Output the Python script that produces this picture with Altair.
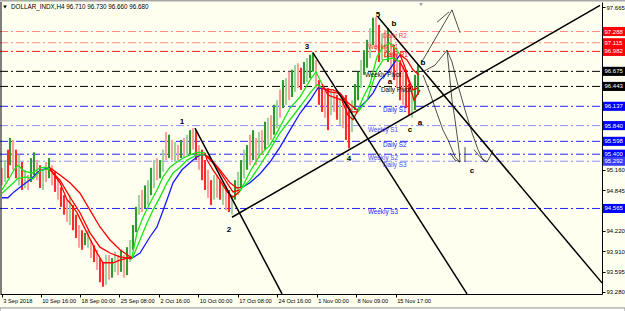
import altair as alt
import pandas as pd

FONT = "Liberation Sans"
BG = "#fffff0"

# ---------------- candles (sampled H4 bars) ----------------
bar_x = [2,5,8,10,13,16,19,22,25,28,31,34,37,40,43,46,49,52,55,58,61,64,67,70,73,76,79,82,85,88,
         91,94,97,100,103,106,109,112,115,118,121,124,127,130,133,136,139,142,145,148,151,154,157,160,
         163,166,169,172,175,178,181,184,187,190,193,196,199,202,205,208,211,214,217,220,223,226,229,
         232,235,238,241,244,247,250,253,256,259,262,265,268,271,274,277,280,283,286,289,292,295,298,
         301,304,307,310,313,316,319,322,325,328,331,334,337,340,343,346,349,352,355,358,361,364,367,
         370,373,376,379,382,385,388,391,394,397,400,403,406,409,412,415,418]
bar_high = [95.19,95.31,95.47,95.65,95.62,95.47,95.39,95.28,95.16,95.08,95.34,95.43,95.31,95.23,95.16,
            95.28,95.34,95.23,95.13,95.00,94.89,94.77,94.70,94.77,94.62,94.47,94.31,94.23,94.19,94.23,
            94.08,94.00,93.93,93.80,93.74,93.85,93.85,93.80,93.90,93.85,93.93,93.85,93.97,94.08,94.31,
            94.59,94.77,94.85,94.92,95.00,95.19,95.31,95.34,95.31,95.47,95.74,95.70,95.62,95.59,95.54,
            95.62,95.65,95.70,95.77,95.80,95.77,95.54,95.47,95.31,95.16,95.00,95.08,95.08,95.00,94.96,
            94.92,94.85,94.77,95.00,95.13,95.31,95.47,95.54,95.70,95.77,95.65,95.74,95.77,95.90,95.96,
            96.00,96.16,96.23,96.39,96.54,96.57,96.67,96.70,96.77,96.80,96.73,96.82,96.88,96.93,96.97,
            96.85,96.54,96.42,96.39,96.42,96.39,96.36,96.31,96.27,96.23,96.31,96.08,96.23,96.48,96.67,
            96.85,97.00,97.16,97.34,97.50,97.51,97.39,97.26,97.31,97.34,97.23,97.08,96.97,96.85,96.77,
            96.70,96.48,96.39,96.62,96.77]
bar_low = [94.92,94.97,95.03,95.23,95.16,95.03,94.92,94.85,94.88,94.85,94.97,95.08,95.00,94.88,94.85,
           94.97,95.03,94.92,94.82,94.70,94.59,94.47,94.36,94.31,94.23,94.11,93.96,93.93,94.00,93.96,
           93.80,93.74,93.62,93.43,93.36,93.39,93.47,93.50,93.59,93.54,93.59,93.50,93.54,93.74,93.93,
           94.20,94.47,94.51,94.57,94.62,94.77,94.88,95.00,95.03,95.13,95.31,95.34,95.31,95.28,95.31,
           95.34,95.36,95.39,95.39,95.47,95.31,95.16,95.00,94.85,94.73,94.62,94.70,94.73,94.70,94.62,
           94.54,94.51,94.47,94.70,94.77,94.88,95.03,95.16,95.23,95.31,95.23,95.34,95.39,95.47,95.54,
           95.62,95.70,95.80,95.96,96.11,96.16,96.23,96.28,96.36,96.42,96.39,96.48,96.51,96.57,96.67,
           96.42,96.16,96.05,95.96,95.77,96.00,96.05,95.93,95.85,95.80,95.62,95.49,95.74,96.08,96.23,
           96.42,96.62,96.73,96.88,97.08,97.00,96.82,96.85,96.88,96.82,96.67,96.54,96.42,96.23,96.16,
           96.11,96.00,95.96,96.08,96.31]
bar_kind = list("rgRGrRgRgrGGrRg" "rGrRrRRrgRRrRGg" "rRrRRgrGgrGrGgG" "GgrGgGgrGgrGrgr"
                "GrgGrRrRRrRgrRg" "rRgGgGgGrGrgrGg" "rGgrGgrGgrRGgGG" "rRRrRgrRgrRRgGG"
                "gGGgGrRgrGrRrRr" "RRgGG")
kind_color = {"G": "#2e9a2e", "g": "#9ed49e", "R": "#ff2a2a", "r": "#ff9f9f"}

# ---------------- moving averages (colour changes with trend) ----------------
GRN, RED, BLU = "#19e619", "#ff0000", "#1a1aff"
slow_segs = [
    (BLU, [2,8,14,20,26,32,38,44,50], [94.73,94.73,94.82,94.89,94.96,95.03,95.13,95.17,95.19]),
    (RED, [50,60,70,80,90,100,110,120,132], [95.19,95.08,94.96,94.80,94.54,94.28,94.08,93.93,93.80]),
    (BLU, [132,140,150,157,167,173,182,193,200,205], [93.80,93.88,94.13,94.28,94.70,94.96,95.16,95.31,95.39,95.39]),
    (RED, [205,210,220,230,237,242], [95.39,95.34,95.16,94.96,94.88,94.89]),
    (BLU, [242,250,260,270,280,290,300,310,318,325], [94.89,94.96,95.10,95.28,95.51,95.77,96.03,96.23,96.42,96.40]),
    (RED, [325,333,340,348,357], [96.40,96.39,96.34,96.19,96.08]),
    (BLU, [357,367,373,380,387,395,400], [96.08,96.23,96.34,96.54,96.65,96.82,96.93]),
    (RED, [400,407,413,419], [96.93,96.85,96.70,96.62]),
]
mid_segs = [
    (GRN, [2,10,18,26,33,40,46,50], [94.80,94.91,95.03,95.05,95.02,95.14,95.17,95.16]),
    (RED, [50,60,70,80,90,100,110,120,132], [95.16,95.00,94.74,94.50,94.19,93.97,93.88,93.82,93.79]),
    (GRN, [132,140,147,153,160,167,173,180,187,197,205], [93.79,94.08,94.34,94.54,94.74,94.96,95.11,95.20,95.31,95.39,95.39]),
    (RED, [205,207,217,227,233,240], [95.39,95.36,95.20,94.96,94.82,94.85]),
    (GRN, [240,250,260,270,280,290,300,310,317,322], [94.85,95.00,95.23,95.47,95.73,95.93,96.13,96.34,96.47,96.42]),
    (RED, [322,330,338,345,352,358], [96.42,96.36,96.34,96.23,96.05,96.05]),
    (GRN, [358,367,377,383,393,400], [96.05,96.23,96.70,96.85,96.88,96.82]),
    (RED, [400,407,413,418], [96.82,96.62,96.39,96.42]),
]
fast_segs = [
    (GRN, [2,8,14,18,24,32,40,46,50], [94.85,95.00,95.16,95.23,95.14,95.11,95.19,95.20,95.17]),
    (RED, [50,60,67,70,77,87,97,103,113,120,132], [95.17,94.96,94.70,94.65,94.50,94.19,93.88,93.73,93.73,93.77,93.82]),
    (GRN, [132,137,143,150,157,163,170,177,183,190,197,205], [93.82,94.19,94.43,94.65,94.85,95.05,95.20,95.28,95.34,95.39,95.43,95.42]),
    (RED, [205,207,213,220,227,233,240], [95.42,95.31,95.16,95.00,94.82,94.74,94.83]),
    (GRN, [240,250,260,270,280,290,300,310,316,322], [94.83,95.13,95.39,95.54,95.82,96.11,96.28,96.54,96.67,96.48]),
    (RED, [322,328,335,342,348,353,358], [96.48,96.31,96.27,96.23,96.00,95.93,96.08]),
    (GRN, [358,363,370,377,383,390,397,400], [96.08,96.27,96.48,96.90,97.05,97.11,97.00,96.93]),
    (RED, [400,405,410,414,420], [96.93,96.74,96.45,96.23,96.39]),
]

# ---------------- pivot levels ----------------
pv_price = [97.288, 97.115, 96.982, 96.675, 96.443, 96.137, 95.840, 95.598, 95.400, 95.292, 94.565]
pv_name = ["Daily R2", "Weekly R1", "Daily R1", "Weekly Pivot", "Daily Pivot", "Daily S1",
           "Weekly S1", "Daily S2", "Weekly S2", "Daily S3", "Weekly S3"]
pv_label_x = [383, 368, 384, 365, 381, 383, 368, 383, 368, 383, 368]
pv_line_color = ["#ff8a8a", "#ff8a8a", "#ff1a1a", "#000000", "#000000", "#2424ff",
                 "#8c8cff", "#2424ff", "#2424ff", "#8c8cff", "#2424ff"]
pv_text_color = ["#ff4040", "#ff3030", "#ff0000", "#000000", "#000000", "#2424ff",
                 "#4a4aff", "#2424ff", "#4a4aff", "#4a4aff", "#2424ff"]
pv_box_color = ["#ff0000", "#ff0000", "#ff0000", "#000000", "#000000", "#0000ff",
                "#0000ff", "#0000ff", "#0000ff", "#3c3cff", "#0000ff"]

# ---------------- axes ----------------
# price-scale ticks that are not hidden behind the level boxes
y_ticks = [93.280, 93.595, 93.910, 94.220, 94.845, 95.160, 97.665]
x_tick_pos = [1.7, 40.7, 80, 119.3, 159, 198.3, 237.7, 277, 316.7, 356, 395.7]
x_tick_text = ["3 Sep 2018", "10 Sep 16:00", "18 Sep 00:00", "25 Sep 08:00", "2 Oct 16:00",
               "10 Oct 00:00", "17 Oct 08:00", "24 Oct 16:00", "1 Nov 00:00", "8 Nov 09:00",
               "15 Nov 17:00"]

# ---------------- drawn objects ----------------
wave_x1 = [195, 232, 313, 378]
wave_p1 = [95.80, 94.43, 96.96, 97.51]
wave_x2 = [282, 600, 467, 602]
wave_p2 = [93.25, 97.69, 93.25, 93.42]

sketch_lines = [
    ([421, 452, 460], [96.80, 97.62, 97.27]),
    ([437, 449], [97.43, 97.59]),
    ([423, 435, 445, 447, 448, 450, 452, 455, 457, 459, 460],
     [96.67, 96.77, 96.96, 97.00, 96.85, 96.54, 96.23, 95.93, 95.70, 95.47, 95.28]),
    ([423, 430, 437, 443, 448, 455, 460], [96.62, 96.34, 96.03, 95.77, 95.62, 95.36, 95.28]),
    ([450, 455, 460], [95.42, 95.31, 95.28]),
    ([465, 465], [95.51, 95.28]),
    ([447, 452, 458, 465, 472, 478, 483, 487, 490, 493],
     [97.00, 96.82, 96.46, 96.08, 95.73, 95.47, 95.31, 95.28, 95.36, 95.47]),
    ([474, 480, 486], [95.47, 95.36, 95.29]),
]

wave_lbl = ["1", "2", "3", "4", "5", "b", "a", "b", "c", "a", "c"]
wave_lbl_x = [182, 229, 307, 349, 378, 394, 390, 423, 410, 420, 472]
wave_lbl_p = [95.90, 94.23, 97.05, 95.33, 97.54, 97.40, 96.51, 96.80, 95.77, 95.88, 95.14]

title_text = "DOLLAR_INDX,H4  96.710 96.730 96.660 96.680"

# ---------------- build tables ----------------
candles = pd.DataFrame({"x": bar_x, "hi": bar_high, "lo": bar_low,
                        "c": [kind_color[k] for k in bar_kind]})
rows = []
sid = 0
for segs in (slow_segs, mid_segs, fast_segs):
    for col, xs, ps in segs:
        for i, (a, b) in enumerate(zip(xs, ps)):
            rows.append({"x": a, "p": b, "c": col, "s": sid, "o": i})
        sid += 1
ma = pd.DataFrame(rows)

piv = pd.DataFrame({"p": pv_price, "name": pv_name, "lx": pv_label_x, "lc": pv_line_color,
                    "tc": pv_text_color, "bc": pv_box_color,
                    "ptxt": [f"{v:.3f}" for v in pv_price]})
piv["top"] = piv["p"] + 0.07
piv["bot"] = piv["p"] - 0.07
piv["bx1"] = 603
piv["bx2"] = 625
piv["tx"] = 604.5
piv["x0"] = 0
piv["x1"] = 602

waves = pd.DataFrame({"x": wave_x1, "p": wave_p1, "x2": wave_x2, "p2": wave_p2})
srows = []
for k, (xs, ps) in enumerate(sketch_lines):
    for i, (a, b) in enumerate(zip(xs, ps)):
        srows.append({"x": a, "p": b, "s": k, "o": i})
sketch = pd.DataFrame(srows)
lbls = pd.DataFrame({"x": wave_lbl_x, "p": wave_lbl_p, "t": wave_lbl})

Y0, Y1 = 93.249, 97.742
xs_ = alt.Scale(domain=[0, 602], nice=False, zero=False)
ys_ = alt.Scale(domain=[Y0, Y1], nice=False, zero=False)

label_expr = " : ".join(
    [f"abs(datum.value - {p}) < 0.01 ? '{t}'" for p, t in zip(x_tick_pos, x_tick_text)]) + " : ''"

x_axis = alt.Axis(values=x_tick_pos, labelExpr=label_expr, title=None, grid=False,
                  domainColor="black", tickColor="black", tickSize=3, labelColor="black",
                  labelFont=FONT, labelFontSize=5.7, labelAlign="left", labelOffset=1,
                  labelPadding=0, labelFlush=False, labelOverlap=False, labelBound=False)
y_axis = alt.Axis(values=y_ticks, orient="right", format=".3f", title=None, grid=False,
                  domainColor="black", tickColor="black", tickSize=3, labelColor="black",
                  labelFont=FONT, labelFontSize=6, labelPadding=1, labelOverlap=False,
                  labelFlush=False)

def X(f="x"):
    return alt.X(f"{f}:Q", scale=xs_, axis=x_axis, title=None)

def Y(f="p"):
    return alt.Y(f"{f}:Q", scale=ys_, axis=y_axis, title=None)

pivot_rules = alt.Chart(piv).mark_rule(strokeWidth=1, strokeDash=[8, 3, 2, 3]).encode(
    x=X("x0"), x2="x1:Q", y=Y("p"), color=alt.Color("lc:N", scale=None))

candle_layer = alt.Chart(candles).mark_rule(strokeWidth=2.1).encode(
    x=X("x"), y=Y("hi"), y2="lo:Q", color=alt.Color("c:N", scale=None))

ma_layer = alt.Chart(ma).mark_line(strokeWidth=1.3).encode(
    x=X(), y=Y(), color=alt.Color("c:N", scale=None), detail="s:N", order="o:Q")

wave_layer = alt.Chart(waves).mark_rule(strokeWidth=1.5, color="black").encode(
    x=X(), y=Y(), x2="x2:Q", y2="p2:Q")

sketch_layer = alt.Chart(sketch).mark_line(strokeWidth=0.8, color="#222222").encode(
    x=X(), y=Y(), detail="s:N", order="o:Q")

lbl_layer = alt.Chart(lbls).mark_text(font=FONT, fontSize=8, fontWeight="bold", color="black").encode(
    x=X(), y=Y(), text="t:N")

pv_text = alt.Chart(piv).mark_text(font=FONT, fontSize=6.3, align="left", baseline="middle", dy=4).encode(
    x=X("lx"), y=Y("p"), text="name:N", color=alt.Color("tc:N", scale=None))

boxes = alt.Chart(piv).mark_rect().encode(
    x=X("bx1"), x2="bx2:Q", y=Y("top"), y2="bot:Q", color=alt.Color("bc:N", scale=None))

box_text = alt.Chart(piv).mark_text(font=FONT, fontSize=6, align="left", baseline="middle",
                                    color="white").encode(x=X("tx"), y=Y("p"), text="ptxt:N")

frame = pd.DataFrame({"x": [1], "x2": [1], "p": [Y1], "p2": [Y0]})
left_border = alt.Chart(frame).mark_rule(color="black", strokeWidth=1).encode(
    x=X(), x2="x2:Q", y=Y(), y2="p2:Q")

top_strip = alt.Chart(pd.DataFrame({"x": [0], "x2": [625], "p": [97.765]})).mark_rule(
    color="#a8a8a8", strokeWidth=2).encode(x=X(), x2="x2:Q", y=Y())
bottom_strip = alt.Chart(pd.DataFrame({"x": [0], "x2": [625], "p": [93.034], "p2": [92.95]})).mark_rect(
    color="#ffffff", stroke="#909090", strokeWidth=1).encode(x=X(), x2="x2:Q", y=Y(), y2="p2:Q")

title_layer = alt.Chart(pd.DataFrame({"x": [11], "p": [97.665], "t": [title_text]})).mark_text(
    font=FONT, fontSize=6.3, align="left", baseline="middle", color="black").encode(
    x=X(), y=Y(), text="t:N")
tri_layer = alt.Chart(pd.DataFrame({"x": [5, 421], "p": [97.665, 97.70],
                                    "c": ["#000000", "#a0a0a0"]})).mark_point(
    shape="triangle-down", filled=True, size=14, opacity=1).encode(
    x=X(), y=Y(), color=alt.Color("c:N", scale=None))

chart = alt.layer(
    pivot_rules, candle_layer, ma_layer, wave_layer, sketch_layer, lbl_layer, pv_text,
    boxes, box_text, left_border, top_strip, bottom_strip, title_layer, tri_layer
).properties(
    width=602, height=292,
    padding={"left": 0, "top": 2, "right": 23, "bottom": 17},
    autosize=alt.AutoSizeParams(type="none"),
    background=BG,
).configure_view(stroke=None)

chart.save("out.html", embed_options={"renderer": "svg", "actions": False})
